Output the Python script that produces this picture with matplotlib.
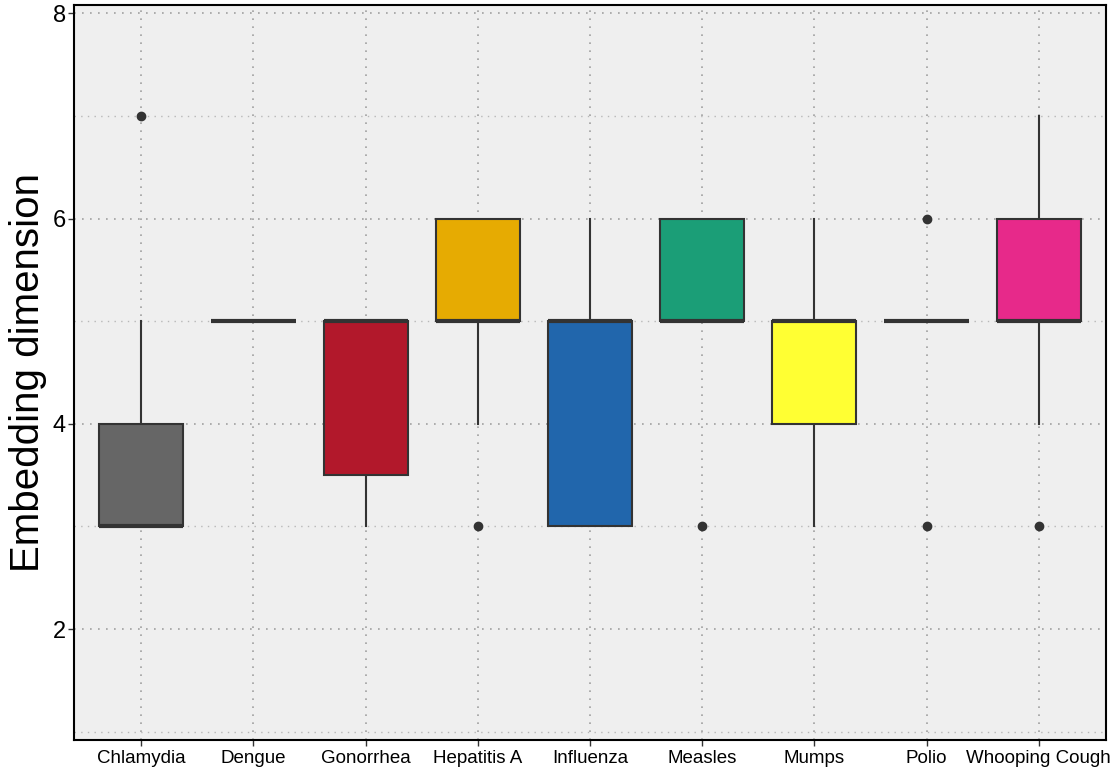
import matplotlib
matplotlib.use("Agg")
import matplotlib.pyplot as plt
from matplotlib.ticker import MultipleLocator

categories = ["Chlamydia", "Dengue", "Gonorrhea", "Hepatitis A", "Influenza",
              "Measles", "Mumps", "Polio", "Whooping Cough"]
q1 =      [3, 5, 3.5, 5, 3, 5, 4, 5, 5]
median =  [3, 5, 5,   5, 5, 5, 5, 5, 5]
q3 =      [4, 5, 5,   6, 5, 6, 5, 5, 6]
wlo =     [3, 5, 3,   4, 3, 5, 3, 5, 4]
whi =     [5, 5, 5,   6, 6, 6, 6, 5, 7]
outliers = [[7], [], [], [3], [], [3], [], [6, 3], [3]]
colors = ["#666666", "#7570b3", "#b2182b", "#e6ab02", "#2166ac",
          "#1b9e77", "#ffff33", "#a6761d", "#e7298a"]

plt.rcParams['font.family'] = ['Liberation Sans', 'DejaVu Sans']
fig = plt.figure(figsize=(11.19, 7.71), dpi=100)
ax = fig.add_axes([74 / 1119, 31 / 771, 1032 / 1119, 735 / 771])
ax.set_facecolor("#efefef")

stats = []
for i, c in enumerate(categories):
    stats.append(dict(label=c, q1=q1[i], med=median[i], q3=q3[i],
                      whislo=wlo[i], whishi=whi[i], fliers=outliers[i]))

positions = list(range(1, len(categories) + 1))
bp = ax.bxp(stats, positions=positions, widths=0.75, patch_artist=True,
            showcaps=False,
            boxprops=dict(edgecolor="#333333", linewidth=1.5),
            medianprops=dict(color="#333333", linewidth=3.0, solid_capstyle="butt"),
            whiskerprops=dict(color="#333333", linewidth=1.5),
            flierprops=dict(marker="o", markerfacecolor="#333333",
                            markeredgecolor="#333333", markersize=6))
for patch, col in zip(bp["boxes"], colors):
    patch.set_facecolor(col)
    patch.set_zorder(3)
for m in bp["medians"]:
    m.set_zorder(4)
for w in bp["whiskers"]:
    w.set_zorder(2.5)
for f in bp["fliers"]:
    f.set_zorder(4)

ax.set_xlim(0.4, 9.6)
ax.set_ylim(0.92, 8.08)
ax.yaxis.set_major_locator(MultipleLocator(2))
ax.yaxis.set_minor_locator(MultipleLocator(1))
ax.set_xticks(positions)
ax.set_xticklabels(categories, fontsize=13.5)
ax.tick_params(axis="y", labelsize=17, length=4, width=1, color="#333333", labelcolor="black", pad=2)
ax.tick_params(axis="x", length=4, width=1, color="#333333", labelcolor="black", pad=3)
ax.tick_params(axis="y", which="minor", length=0)

ax.grid(True, which="major", axis="both", linestyle=(0, (1, 3.8)), color="#a0a0a0", linewidth=1.2)
ax.grid(True, which="minor", axis="y", linestyle=(0, (1, 3.8)), color="#b8b8b8", linewidth=1.0)
ax.set_axisbelow(True)

for s in ax.spines.values():
    s.set_color("black")
    s.set_linewidth(1.5)

ax.set_ylabel("Embedding dimension", fontsize=29, labelpad=4)

fig.savefig("out.png", dpi=100)
